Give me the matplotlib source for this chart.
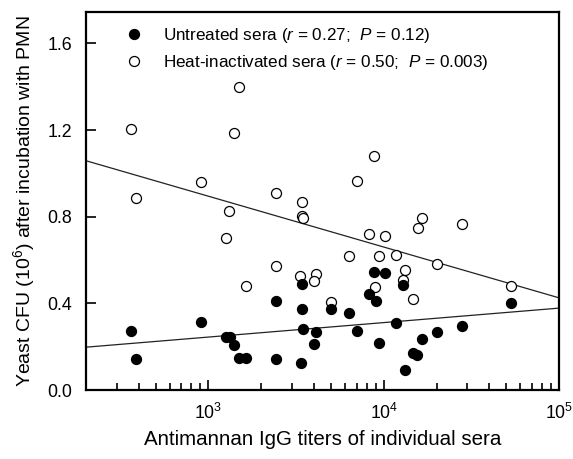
import numpy as np
import matplotlib
matplotlib.use("Agg")
import matplotlib.pyplot as plt
from matplotlib.ticker import LogLocator, FixedLocator, NullFormatter, FuncFormatter

plt.rcParams['font.family'] = ['Liberation Sans', 'DejaVu Sans']
plt.rcParams['mathtext.fontset'] = 'custom'
plt.rcParams['mathtext.rm'] = 'Liberation Sans'
plt.rcParams['mathtext.it'] = 'Liberation Sans:italic'
plt.rcParams['mathtext.bf'] = 'Liberation Sans:bold'

# Untreated sera (filled)
untreated_x = [363, 387, 908, 1262, 1331, 1401, 1496, 1640, 2432, 2432, 3420, 3420,
               3465, 3375, 4109, 4003, 5002, 6335, 7036, 8236, 9029, 8796, 10158,
               9391, 11735, 12868, 13210, 14669, 15460, 16511, 20097, 27901, 53060]
untreated_y = [0.272, 0.143, 0.314, 0.245, 0.245, 0.208, 0.148, 0.148, 0.411, 0.143,
               0.489, 0.374, 0.281, 0.125, 0.268, 0.212, 0.374, 0.355, 0.272, 0.443,
               0.411, 0.545, 0.540, 0.217, 0.309, 0.485, 0.092, 0.171, 0.162, 0.235,
               0.268, 0.295, 0.401]

# Heat-inactivated sera (open)
heat_x = [363, 387, 908, 1312, 1262, 1401, 1496, 1640, 2432, 2432, 3420, 3420, 3465,
          3331, 4109, 4003, 5002, 7036, 8796, 8236, 10158, 6335, 9391, 11735, 8911,
          16511, 15665, 27901, 13210, 12868, 20097, 14669, 53060]
heat_y = [1.204, 0.886, 0.960, 0.826, 0.701, 1.186, 1.398, 0.480, 0.909, 0.572,
          0.868, 0.803, 0.794, 0.526, 0.535, 0.503, 0.406, 0.964, 1.080, 0.720,
          0.711, 0.618, 0.618, 0.623, 0.475, 0.794, 0.748, 0.766, 0.554, 0.508,
          0.581, 0.420, 0.480]

# Regression lines: y = a + b*log10(x)
fit_untreated = (0.044, 0.0668)
fit_heat = (1.598, -0.2345)

legend_labels = ["Untreated sera ($r$ = 0.27;  $P$ = 0.12)",
                 "Heat-inactivated sera ($r$ = 0.50;  $P$ = 0.003)"]
xlabel = "Antimannan IgG titers of individual sera"
ylabel = "Yeast CFU (10$^{6}$) after incubation with PMN"

fig = plt.figure(figsize=(5.73, 4.59), dpi=100)
ax = fig.add_axes([0.150, 0.1503, 0.8256, 0.8236])

ax.set_xscale('log')
ax.set_xlim(200, 1e5)
ax.set_ylim(0, 1.745)

xx = np.array([200, 1e5])
ax.plot(xx, fit_heat[0] + fit_heat[1] * np.log10(xx), color='#222222', lw=0.9, zorder=1)
ax.plot(xx, fit_untreated[0] + fit_untreated[1] * np.log10(xx), color='#222222', lw=0.9, zorder=1)

ax.plot(heat_x, heat_y, 'o', ms=7.2, mfc='white', mec='black', mew=0.9, ls='none',
        label=legend_labels[1], zorder=2)
ax.plot(untreated_x, untreated_y, 'o', ms=7.2, mfc='black', mec='black', mew=0.9, ls='none',
        label=legend_labels[0], zorder=3)

handles, labels = ax.get_legend_handles_labels()
leg = ax.legend(handles[::-1], labels[::-1], loc='upper left', bbox_to_anchor=(0.058, 0.995),
                frameon=False, fontsize=12.3, handletextpad=1.2, labelspacing=0.48,
                handlelength=1.0, borderaxespad=0.3)

for s in ax.spines.values():
    s.set_linewidth(1.6)

ax.set_yticks([0.0, 0.4, 0.8, 1.2, 1.6])
ax.set_yticklabels(['0.0', '0.4', '0.8', '1.2', '1.6'])
ax.xaxis.set_major_locator(FixedLocator([1e3, 1e4, 1e5]))
ax.xaxis.set_major_formatter(FuncFormatter(lambda v, p: r'$10^{%d}$' % round(np.log10(v))))
ax.xaxis.set_minor_locator(LogLocator(base=10, subs=np.arange(2, 10), numticks=20))
ax.xaxis.set_minor_formatter(NullFormatter())

ax.tick_params(axis='both', which='major', direction='in', length=7, width=1.2,
               labelsize=12.8, top=False, right=False)
ax.tick_params(axis='x', which='minor', direction='in', length=5, width=1.2, top=False)
ax.tick_params(axis='x', which='major', pad=9)
ax.tick_params(axis='y', which='major', pad=10)

ax.set_xlabel(xlabel, fontsize=14.8, labelpad=5)
ax.set_ylabel(ylabel, fontsize=14, labelpad=7)

fig.savefig('out.png', dpi=100)
